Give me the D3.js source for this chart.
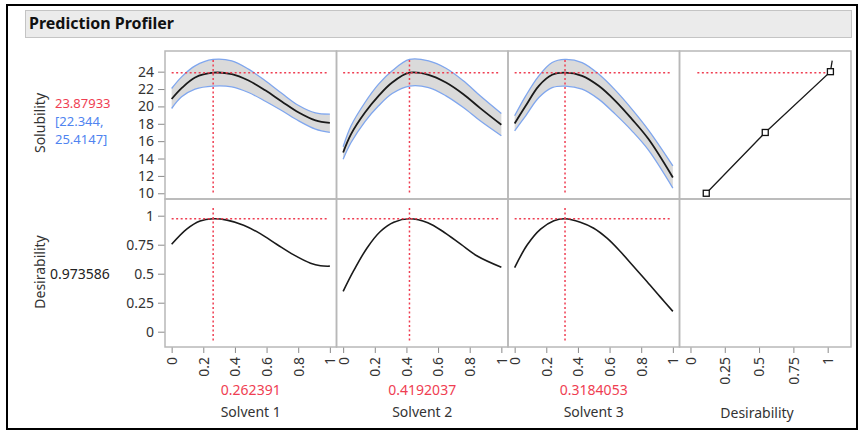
<!DOCTYPE html>
<html>
<head>
<meta charset="utf-8">
<script src="https://cdn.jsdelivr.net/npm/d3@7"></script>
<style>
  body { margin: 0; background: #fff; }
  text { font-family: "Noto Sans", "Open Sans", sans-serif; }
</style>
</head>
<body>
<script>
// factor names and current settings
var factors = ["Solvent 1", "Solvent 2", "Solvent 3"];
var current = [0.262391, 0.4192037, 0.3184053];
var currentText = ["0.262391", "0.4192037", "0.3184053"];

// solubility profile (x, predicted, lower, upper)
var xs1 = [0, 0.063, 0.148, 0.262, 0.38, 0.486, 0.592, 0.698, 0.803, 0.909, 1.0];
var pred1 = [20.85, 22.1, 23.33, 23.88, 23.72, 22.98, 21.85, 20.55, 19.3, 18.4, 18.1];
var low1 = [19.76, 21.1, 21.99, 22.34, 22.25, 21.6, 20.6, 19.5, 18.34, 17.39, 17.0];
var up1 = [22.06, 23.4, 24.67, 25.41, 25.25, 24.29, 22.95, 21.48, 20.1, 19.25, 19.11];

var xs2 = [0, 0.05, 0.138, 0.224, 0.31, 0.419, 0.54, 0.65, 0.76, 0.866, 1.0];
var pred2 = [14.69, 16.81, 19.3, 21.22, 22.75, 23.88, 23.64, 22.75, 21.4, 19.8, 17.88];
var low2 = [13.93, 15.84, 18.26, 20.07, 21.48, 22.34, 22.17, 21.22, 19.87, 18.34, 16.62];
var up2 = [15.35, 17.77, 20.45, 22.56, 24.1, 25.41, 25.25, 24.4, 22.95, 21.22, 19.18];

var xs3 = [0, 0.07, 0.153, 0.237, 0.318, 0.426, 0.531, 0.636, 0.741, 0.846, 1.0];
var pred3 = [18.03, 20.07, 22.37, 23.64, 23.88, 23.52, 22.37, 20.64, 18.54, 16.24, 11.82];
var low3 = [17.19, 18.92, 21.02, 22.17, 22.34, 21.99, 20.84, 19.11, 17.19, 14.97, 10.6];
var up3 = [18.92, 21.22, 23.52, 25.05, 25.41, 25.05, 23.72, 21.87, 19.69, 17.27, 13.16];

// desirability profile
var dx1 = [0, 0.095, 0.18, 0.262, 0.35, 0.455, 0.56, 0.666, 0.772, 0.878, 0.941, 1.0];
var des1 = [0.754, 0.885, 0.955, 0.9736, 0.962, 0.918, 0.845, 0.752, 0.662, 0.59, 0.568, 0.565];
var dx2 = [0, 0.064, 0.15, 0.235, 0.32, 0.419, 0.535, 0.64, 0.745, 0.85, 1.0];
var des2 = [0.347, 0.519, 0.72, 0.864, 0.944, 0.9736, 0.94, 0.855, 0.752, 0.65, 0.555];
var dx3 = [0, 0.08, 0.164, 0.248, 0.318, 0.415, 0.5, 0.584, 0.668, 0.752, 0.836, 0.92, 1.0];
var des3 = [0.553, 0.749, 0.884, 0.957, 0.9736, 0.944, 0.892, 0.806, 0.691, 0.562, 0.433, 0.3, 0.175];

// desirability function (desirability -> solubility)
var desFnX = [0.115, 0.545, 1.02];
var desFnY = [10, 17, 24];
var desLineX = [0.115, 0.545, 1.02, 1.033];
var desLineY = [10, 17, 24, 25.27];

var solTicks = [10, 12, 14, 16, 18, 20, 22, 24];
var desTicks = [0, 0.25, 0.5, 0.75, 1];
var xTicks = [0, 0.2, 0.4, 0.6, 0.8, 1];

var predNow = 23.87933, desNow = 0.973586;

var w = 859, h = 432;
var red = "#ef3e52", blue = "#4f84f0", band = "#7fa6ee";
var panelX = [165, 336.5, 508, 679.5], pw = 171.5;
var top1 = 51, top2 = 199, ph = 148;
var smooth = d3.curveCatmullRom.alpha(0.5);

var svg = d3.select("body").append("svg")
    .attr("width", w)
    .attr("height", h);

// outer frame and header
svg.append("rect")
    .attr("x", 7).attr("y", 5).attr("width", 850).attr("height", 424)
    .style("fill", "none").style("stroke", "#000").style("stroke-width", 2);
svg.append("rect")
    .attr("x", 25.5).attr("y", 10.5).attr("width", 826).attr("height", 27)
    .style("fill", "#ebebeb").style("stroke", "#c4c4c4");
svg.append("text")
    .attr("x", 29).attr("y", 29)
    .style("font-size", "16px").style("font-weight", "bold").style("fill", "#111")
    .text("Prediction Profiler");

var ySol = d3.scaleLinear().domain([9.34, 26.38]).range([top1 + ph, top1]);
var yDes = d3.scaleLinear().domain([-0.132, 1.144]).range([top2 + ph, top2]);

var profiles = [
    {xs: xs1, pred: pred1, low: low1, up: up1, dx: dx1, des: des1},
    {xs: xs2, pred: pred2, low: low2, up: up2, dx: dx2, des: des2},
    {xs: xs3, pred: pred3, low: low3, up: up3, dx: dx3, des: des3}
];

function dotted(g, x1, y1, x2, y2) {
    g.append("line")
        .attr("x1", x1).attr("y1", y1).attr("x2", x2).attr("y2", y2)
        .style("stroke", red).style("stroke-width", 1.5)
        .style("stroke-dasharray", "2,2.5");
}

profiles.forEach(function(p, i){
    var x = d3.scaleLinear().domain([-0.042, 1.042]).range([panelX[i], panelX[i] + pw]);
    var g = svg.append("g").attr("class", "profile");

    // confidence band
    var area = d3.area()
        .x(function(d, k){ return x(p.xs[k]); })
        .y0(function(d, k){ return ySol(p.low[k]); })
        .y1(function(d, k){ return ySol(p.up[k]); })
        .curve(smooth);
    g.append("path").datum(p.xs).attr("d", area).style("fill", "#dadada");

    [p.low, p.up].forEach(function(arr){
        g.append("path").datum(arr)
            .attr("d", d3.line()
                .x(function(d, k){ return x(p.xs[k]); })
                .y(function(d){ return ySol(d); })
                .curve(smooth))
            .style("fill", "none").style("stroke", band).style("stroke-width", 1.3);
    });

    g.append("path").datum(p.pred)
        .attr("d", d3.line()
            .x(function(d, k){ return x(p.xs[k]); })
            .y(function(d){ return ySol(d); })
            .curve(smooth))
        .style("fill", "none").style("stroke", "#1a1a1a").style("stroke-width", 1.8);

    // desirability trace
    g.append("path").datum(p.des)
        .attr("d", d3.line()
            .x(function(d, k){ return x(p.dx[k]); })
            .y(function(d){ return yDes(d); })
            .curve(smooth))
        .style("fill", "none").style("stroke", "#1a1a1a").style("stroke-width", 1.6);

    // current setting crosshairs
    dotted(g, x(0), ySol(predNow), x(0.99), ySol(predNow));
    dotted(g, x(current[i]), top1 + 9, x(current[i]), top1 + ph - 6);
    dotted(g, x(0), yDes(desNow), x(0.99), yDes(desNow));
    dotted(g, x(current[i]), top2 + 9, x(current[i]), top2 + ph - 5);

    // x axis
    var ax = svg.append("g")
        .attr("transform", "translate(0," + (top2 + ph) + ")")
        .call(d3.axisBottom(x).tickValues(xTicks).tickFormat(d3.format("")).tickSize(6).tickPadding(4));
    ax.select(".domain").remove();
    ax.selectAll("line").style("stroke", "#8a8a8a");
    ax.selectAll("text")
        .attr("transform", "rotate(-90)")
        .attr("x", -10).attr("y", 0).attr("dy", "0.35em")
        .style("text-anchor", "end").style("font-size", "14px").style("fill", "#333")
        .style("font-family", "Noto Sans");

    svg.append("text")
        .attr("x", panelX[i] + pw / 2).attr("y", 395)
        .style("text-anchor", "middle").style("font-size", "14px").style("fill", red)
        .text(currentText[i]);
    svg.append("text")
        .attr("x", panelX[i] + pw / 2).attr("y", 417)
        .style("text-anchor", "middle").style("font-size", "14px").style("fill", "#333")
        .text(factors[i]);
});

// desirability function panel
var xD = d3.scaleLinear().domain([-0.08, 1.17]).range([panelX[3], panelX[3] + pw]);
dotted(svg, xD(0.05), ySol(predNow), xD(desFnX[2]), ySol(predNow));
svg.append("path").datum(desLineY)
    .attr("d", d3.line()
        .x(function(d, k){ return xD(desLineX[k]); })
        .y(function(d){ return ySol(d); }))
    .style("fill", "none").style("stroke", "#1a1a1a").style("stroke-width", 1.3);
svg.selectAll(".handle").data(desFnY).enter().append("rect")
    .attr("class", "handle")
    .attr("x", function(d, k){ return xD(desFnX[k]) - 3; })
    .attr("y", function(d){ return ySol(d) - 3; })
    .attr("width", 6).attr("height", 6)
    .style("fill", "#fff").style("stroke", "#111").style("stroke-width", 1.3);

var axD = svg.append("g")
    .attr("transform", "translate(0," + (top2 + ph) + ")")
    .call(d3.axisBottom(xD).tickValues(desTicks).tickFormat(d3.format("")).tickSize(6));
axD.select(".domain").remove();
axD.selectAll("line").style("stroke", "#8a8a8a");
axD.selectAll("text")
    .attr("transform", "rotate(-90)")
    .attr("x", -10).attr("y", 0).attr("dy", "0.35em")
    .style("text-anchor", "end").style("font-size", "14px").style("fill", "#333")
    .style("font-family", "Noto Sans");
svg.append("text")
    .attr("x", 757).attr("y", 418)
    .style("text-anchor", "middle").style("font-size", "14px").style("fill", "#333")
    .text("Desirability");

// y axes
var aySol = svg.append("g")
    .attr("transform", "translate(" + panelX[0] + ",0)")
    .call(d3.axisLeft(ySol).tickValues(solTicks).tickSize(7).tickPadding(4));
var ayDes = svg.append("g")
    .attr("transform", "translate(" + panelX[0] + ",0)")
    .call(d3.axisLeft(yDes).tickValues(desTicks).tickFormat(d3.format("")).tickSize(7).tickPadding(4));
[aySol, ayDes].forEach(function(a){
    a.select(".domain").remove();
    a.selectAll("line").style("stroke", "#8a8a8a");
    a.selectAll("text").style("font-size", "14px").style("fill", "#333").style("font-family", "Noto Sans");
});

// panel frames
for (var r = 0; r < 2; r++) {
    for (var c = 0; c < 4; c++) {
        svg.append("rect")
            .attr("x", panelX[c]).attr("y", r == 0 ? top1 : top2)
            .attr("width", pw).attr("height", ph)
            .style("fill", "none").style("stroke", "#b8b8b8").style("stroke-width", 1.5);
    }
}

// response labels
svg.append("text")
    .attr("transform", "translate(45,123) rotate(-90)")
    .style("text-anchor", "middle").style("font-size", "14px").style("fill", "#333")
    .text("Solubility");
svg.append("text").attr("x", 55).attr("y", 108)
    .style("font-size", "13px").style("fill", red).text("23.87933");
svg.append("text").attr("x", 55).attr("y", 126)
    .style("font-size", "13px").style("fill", blue).text("[22.344,");
svg.append("text").attr("x", 55).attr("y", 144)
    .style("font-size", "13px").style("fill", blue).text("25.4147]");

svg.append("text")
    .attr("transform", "translate(45,272) rotate(-90)")
    .style("text-anchor", "middle").style("font-size", "14px").style("fill", "#333")
    .text("Desirability");
svg.append("text").attr("x", 50).attr("y", 279)
    .style("font-size", "14px").style("fill", "#222").text("0.973586");
</script>
</body>
</html>
